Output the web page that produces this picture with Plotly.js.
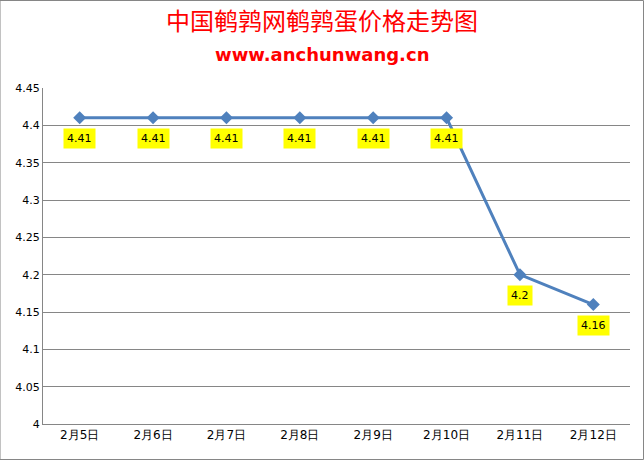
<!DOCTYPE html>
<html>
<head>
<meta charset="utf-8">
<script src="https://cdn.plot.ly/plotly-3.0.1.min.js"></script>
<style>
  html, body { margin: 0; padding: 0; background: #fff; }
  #graphDiv { width: 644px; height: 460px; }
</style>
</head>
<body>
<div id="graphDiv"></div>
<script>
// Chart data
const dates = ['2月5日', '2月6日', '2月7日', '2月8日', '2月9日', '2月10日', '2月11日', '2月12日'];
const prices = [4.41, 4.41, 4.41, 4.41, 4.41, 4.41, 4.2, 4.16];
const yTicks = [4, 4.05, 4.1, 4.15, 4.2, 4.25, 4.3, 4.35, 4.4, 4.45];

// Price line
const priceLine = {
	type: 'scatter',
	mode: 'lines+markers',
	x: dates,
	y: prices,
	line: { color: '#4F81BD', width: 3 },
	marker: { symbol: 'diamond', size: 10, color: '#4F81BD' },
	hoverinfo: 'x+y',
};

// Yellow value labels under each point
const labels = dates.map((d, i) => ({
	x: d,
	y: prices[i],
	text: String(prices[i]),
	showarrow: false,
	yshift: -21,
	bgcolor: '#FFFF00',
	borderpad: 3,
	font: { family: 'DejaVu Sans, sans-serif', size: 11, color: '#000' },
}));

const layout = {
	width: 644,
	height: 460,
	margin: { l: 43, r: 14, t: 88, b: 36 },
	paper_bgcolor: '#fff',
	plot_bgcolor: '#fff',
	showlegend: false,
	title: {
		text: '中国鹌鹑网鹌鹑蛋价格走势图',
		font: { family: 'Noto Sans CJK SC, sans-serif', size: 24, color: '#FF0000' },
		x: 0.5,
		xanchor: 'center',
		y: 0.952,
		yanchor: 'middle',
	},
	xaxis: {
		type: 'category',
		range: [-0.5, 7.5],
		showgrid: false,
		showline: true,
		linecolor: '#868686',
		linewidth: 1,
		ticks: '',
		tickfont: { family: 'DejaVu Sans, sans-serif', size: 12, color: '#000' },
		fixedrange: true,
	},
	yaxis: {
		range: [4, 4.45],
		tickvals: yTicks,
		ticktext: yTicks.map(String),
		showgrid: true,
		gridcolor: '#868686',
		gridwidth: 1,
		showline: true,
		linecolor: '#868686',
		zeroline: false,
		ticks: '',
		ticklen: 0,
		tickfont: { family: 'DejaVu Sans, sans-serif', size: 11, color: '#000' },
		fixedrange: true,
	},
	annotations: labels.concat([{
		text: '<b>www.anchunwang.cn</b>',
		xref: 'paper',
		yref: 'paper',
		x: (322 - 43) / 587,
		y: 1 + (88 - 55) / 336,
		xanchor: 'center',
		yanchor: 'middle',
		showarrow: false,
		font: { family: 'DejaVu Sans, Verdana, sans-serif', size: 18, color: '#FF0000' },
	}]),
	shapes: [{
		type: 'rect',
		xref: 'paper',
		yref: 'paper',
		x0: -43 / 587,
		x1: 1 + 13.5 / 587,
		y0: -35.5 / 336,
		y1: 1 + 87.5 / 336,
		line: { color: '#868686', width: 1 },
	}],
};

Plotly.newPlot('graphDiv', [priceLine], layout, { displayModeBar: false, staticPlot: true });
</script>
</body>
</html>
